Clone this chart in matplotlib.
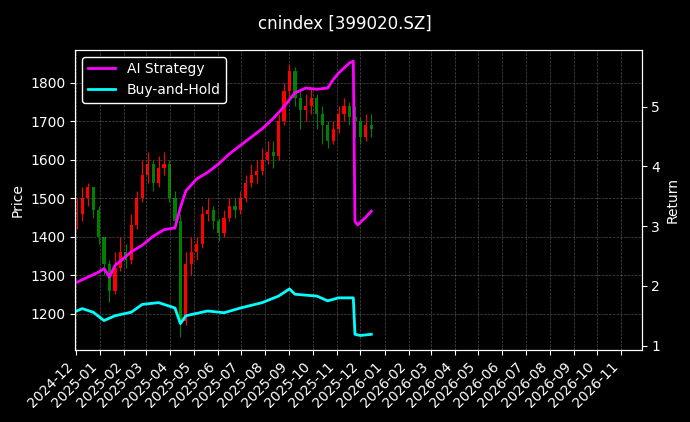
import matplotlib
matplotlib.use("Agg")
import matplotlib.pyplot as plt
import matplotlib.dates as mdates
import numpy as np
import pandas as pd

plt.style.use("dark_background")

week_start = "2024-12-02"
closes = [1460,1500,1530,1470,1400,1330,1260,1320,1360,1340,1430,1500,1560,1590,1540,1580,1590,1500,1440,1180,
          1330,1360,1380,1460,1470,1440,1410,1450,1480,1470,1500,1540,1560,1570,1600,1620,1610,1700,1780,1830,
          1760,1730,1740,1760,1720,1690,1650,1680,1720,1740,1710,1700,1660,1690,1680]
highs = [1500,1530,1540,1530,1480,1400,1340,1360,1400,1380,1460,1520,1600,1620,1600,1610,1620,1600,1520,1460,
         1360,1400,1400,1480,1500,1480,1450,1470,1500,1500,1520,1560,1590,1600,1630,1650,1650,1720,1800,1850,
         1840,1780,1770,1790,1770,1740,1700,1700,1740,1760,1750,1740,1710,1720,1720]
lows = [1420,1440,1480,1450,1380,1300,1230,1250,1310,1320,1330,1420,1490,1540,1520,1530,1560,1490,1420,1140,
        1170,1300,1340,1370,1440,1420,1390,1400,1440,1450,1460,1490,1530,1540,1560,1590,1580,1600,1690,1760,
        1740,1680,1700,1720,1680,1640,1630,1640,1670,1700,1690,1660,1640,1650,1660]

ai_idx = [0,4,5,6,7,10,12,14,16,18,19,20,22,24,26,28,30,32,34,36,38,40,42,44,46,47,48,50,50.7,51,51.5,53,54]
ai_val = [2.06,2.23,2.29,2.15,2.34,2.57,2.68,2.83,2.94,2.97,3.31,3.59,3.79,3.90,4.04,4.21,4.35,4.49,4.63,4.80,
          5.00,5.23,5.31,5.29,5.31,5.45,5.56,5.73,5.76,3.08,3.02,3.15,3.25]
bh_idx = [0,1,3,5,7,10,12,15,18,19,20,24,27,30,34,37,39,40,44,46,48,50,50.7,51,52,54]
bh_val = [1.58,1.62,1.56,1.42,1.50,1.56,1.69,1.72,1.63,1.37,1.50,1.58,1.55,1.63,1.72,1.83,1.95,1.86,1.83,1.75,
          1.80,1.80,1.80,1.19,1.17,1.19]

t0 = pd.Timestamp(week_start)
def to_date(i):
    return t0 + pd.Timedelta(days=7 * i)

dates = [to_date(i) for i in range(len(closes))]
opens = [closes[0]] + closes[:-1]

fig = plt.figure(figsize=(6.9, 4.22), dpi=100, facecolor="black")
ax = fig.add_axes([0.109, 0.171, 0.821, 0.711])
ax.set_facecolor("black")
for d, o, c, h, l in zip(dates, opens, closes, highs, lows):
    col = "red" if c >= o else "green"
    x = mdates.date2num(d)
    ax.vlines(x, l, h, color=col, lw=0.8)
    ax.bar(x, abs(c - o) if c != o else 2, bottom=min(o, c), width=4, color=col)
ax.set_ylim(1106, 1886)
ax.set_ylabel("Price")
ax.grid(True, color="gray", ls="--", lw=0.5, alpha=0.6)

ax2 = ax.twinx()
ax2.plot([to_date(i) for i in ai_idx], ai_val, color="magenta", lw=2, label="AI Strategy")
ax2.plot([to_date(i) for i in bh_idx], bh_val, color="cyan", lw=2, label="Buy-and-Hold")
ax2.set_ylim(0.93, 5.95)
ax2.set_ylabel("Return")
ax2.legend(loc="upper left", facecolor="black", edgecolor="white", framealpha=1)

ax.set_xlim(pd.Timestamp("2024-11-30"), pd.Timestamp("2026-11-27"))
ax.xaxis.set_major_locator(mdates.MonthLocator())
ax.xaxis.set_major_formatter(mdates.DateFormatter("%Y-%m"))
plt.setp(ax.get_xticklabels(), rotation=45, ha="right")
fig.suptitle("cnindex [399020.SZ]", y=0.965)
fig.savefig("out.png", dpi=100, facecolor="black")
